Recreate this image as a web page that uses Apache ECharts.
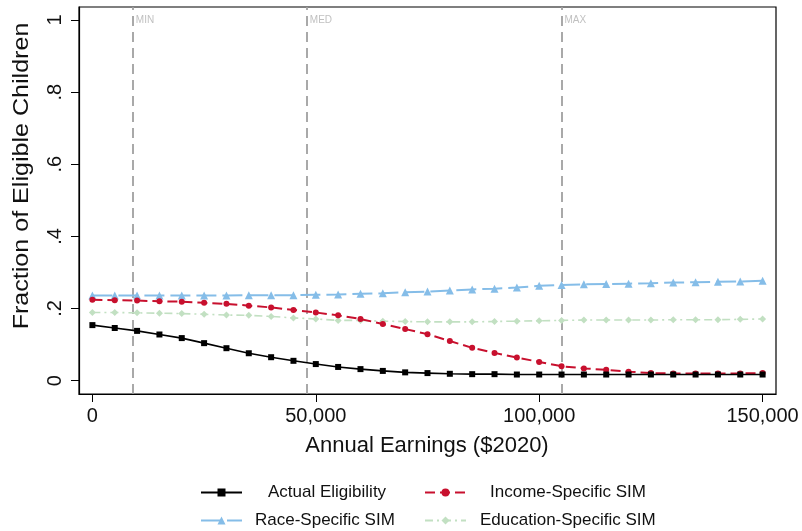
<!DOCTYPE html>
<html>
<head>
<meta charset="utf-8">
<script src="https://cdn.jsdelivr.net/npm/echarts@6/dist/echarts.min.js"></script>
<style>
  html, body { margin: 0; padding: 0; background: #fff; }
  #chart { width: 802px; height: 531px; }
</style>
</head>
<body>
<div id="chart"></div>
<script>
// Annual earnings grid (2020 dollars)
const earnings = [0, 5000, 10000, 15000, 20000, 25000, 30000, 35000, 40000, 45000,
  50000, 55000, 60000, 65000, 70000, 75000, 80000, 85000, 90000, 95000,
  100000, 105000, 110000, 115000, 120000, 125000, 130000, 135000, 140000, 145000, 150000];

// Fraction of eligible children
const actualEligibility = [0.154, 0.146, 0.138, 0.128, 0.118, 0.104, 0.090, 0.076, 0.065, 0.055,
  0.046, 0.038, 0.032, 0.027, 0.023, 0.021, 0.019, 0.018, 0.018, 0.017,
  0.017, 0.017, 0.017, 0.017, 0.017, 0.017, 0.017, 0.017, 0.017, 0.017, 0.017];
const incomeSIM = [0.224, 0.223, 0.222, 0.220, 0.219, 0.216, 0.213, 0.208, 0.203, 0.196,
  0.189, 0.181, 0.171, 0.157, 0.143, 0.129, 0.110, 0.091, 0.077, 0.064,
  0.052, 0.040, 0.034, 0.030, 0.025, 0.021, 0.020, 0.020, 0.020, 0.020, 0.021];
const raceSIM = [0.236, 0.236, 0.236, 0.236, 0.236, 0.236, 0.236, 0.237, 0.237, 0.237,
  0.238, 0.239, 0.241, 0.242, 0.245, 0.247, 0.250, 0.253, 0.255, 0.258,
  0.263, 0.265, 0.267, 0.268, 0.269, 0.270, 0.272, 0.273, 0.274, 0.275, 0.277];
const educationSIM = [0.189, 0.189, 0.188, 0.187, 0.186, 0.184, 0.182, 0.181, 0.178, 0.174,
  0.171, 0.167, 0.167, 0.165, 0.164, 0.163, 0.163, 0.163, 0.164, 0.165,
  0.166, 0.167, 0.168, 0.168, 0.168, 0.168, 0.169, 0.169, 0.169, 0.170, 0.171];

// Reference earnings levels
const refNames = ['MIN', 'MED', 'MAX'];
const refValues = [9050, 48000, 105000];

const xTicks = [0, 50000, 100000, 150000];
const yTicks = [0, 0.2, 0.4, 0.6, 0.8, 1];

const FONT = 'Liberation Sans, Arial, sans-serif';

function pairs(ys) { return earnings.map((x, i) => [x, ys[i]]); }

const chart = echarts.init(document.getElementById('chart'), null, { renderer: 'canvas' });

function legendFor(name, left, top, pad) {
  return {
    data: [name], left: left, top: top, orient: 'horizontal',
    itemWidth: 41, itemHeight: 10, padding: 0,
    textStyle: { fontFamily: FONT, fontSize: 17, color: '#111', padding: [0, 0, 0, pad] }
  };
}

const option = {
  animation: false,
  backgroundColor: '#fff',
  grid: { left: 79, top: 7, right: 26, bottom: 137, show: true, borderColor: '#000', borderWidth: 1.2, backgroundColor: '#fff' },
  xAxis: {
    type: 'value', min: -3000, max: 153000,
    splitLine: { show: false },
    axisLine: { onZero: false, lineStyle: { color: '#000', width: 1.2 } },
    axisTick: { show: true, length: 8, customValues: xTicks, lineStyle: { color: '#000' } },
    axisLabel: {
      customValues: xTicks, margin: 12, fontFamily: FONT, fontSize: 20, color: '#111',
      formatter: v => v.toLocaleString('en-US')
    }
  },
  yAxis: {
    type: 'value', min: -0.037, max: 1.036,
    splitLine: { show: false },
    axisLine: { onZero: false, lineStyle: { color: '#000', width: 1.2 } },
    axisTick: { show: true, length: 8, customValues: yTicks, lineStyle: { color: '#000' } },
    axisLabel: {
      customValues: yTicks, rotate: 90, margin: 14, fontFamily: FONT, fontSize: 20, color: '#111',
      formatter: v => (v === 0 ? '0' : v === 1 ? '1' : String(Math.round(v * 10) / 10).replace('0.', '.'))
    }
  },
  legend: [
    legendFor('Actual Eligibility', 200, 484, 21),
    legendFor('Income-Specific SIM', 424, 484, 19),
    legendFor('Race-Specific SIM', 200, 512, 8),
    legendFor('Education-Specific SIM', 424, 512, 9)
  ],
  graphic: [
    {
      type: 'text', x: 427, y: 446,
      style: { text: 'Annual Earnings ($2020)', font: '22px ' + FONT, fill: '#111', align: 'center', verticalAlign: 'middle' }
    },
    {
      type: 'text', x: 22, y: 176, rotation: Math.PI / 2, scaleX: 1.14,
      style: { text: 'Fraction of Eligible Children', font: '22px ' + FONT, fill: '#111', align: 'center', verticalAlign: 'middle' }
    }
  ],
  series: [
    {
      name: 'Actual Eligibility', type: 'line', data: pairs(actualEligibility), z: 5,
      symbol: 'rect', symbolSize: 6,
      lineStyle: { color: '#000', width: 1.6, type: 'solid' },
      itemStyle: { color: '#000' },
      markLine: {
        silent: true, symbol: 'none', z: 1,
        label: { show: false },
        lineStyle: { color: '#a0a0a0', width: 1.8, type: [10, 6] },
        data: refValues.map(v => ({ xAxis: v }))
      }
    },
    {
      name: 'Income-Specific SIM', type: 'line', data: pairs(incomeSIM), z: 4,
      symbol: 'circle', symbolSize: 6,
      lineStyle: { color: '#c8102e', width: 2, type: [10, 5] },
      itemStyle: { color: '#c8102e' }
    },
    {
      name: 'Race-Specific SIM', type: 'line', data: pairs(raceSIM), z: 3,
      symbol: 'triangle', symbolSize: 8,
      lineStyle: { color: '#85bde8', width: 2, type: [20, 6] },
      itemStyle: { color: '#85bde8' }
    },
    {
      name: 'Education-Specific SIM', type: 'line', data: pairs(educationSIM), z: 2,
      symbol: 'diamond', symbolSize: 7,
      lineStyle: { color: '#c2e0c2', width: 1.6, type: [8, 4, 2, 4] },
      itemStyle: { color: '#c2e0c2' }
    },
    {
      name: 'refLabels', type: 'scatter', symbolSize: 0, silent: true, z: 1,
      data: refValues.map((v, i) => ({ value: [v, 1.0], name: refNames[i] })),
      label: {
        show: true, position: 'right', distance: 3, formatter: p => p.name,
        fontFamily: FONT, fontSize: 10, color: '#b0b0b0'
      }
    }
  ]
};

chart.setOption(option);
</script>
</body>
</html>
